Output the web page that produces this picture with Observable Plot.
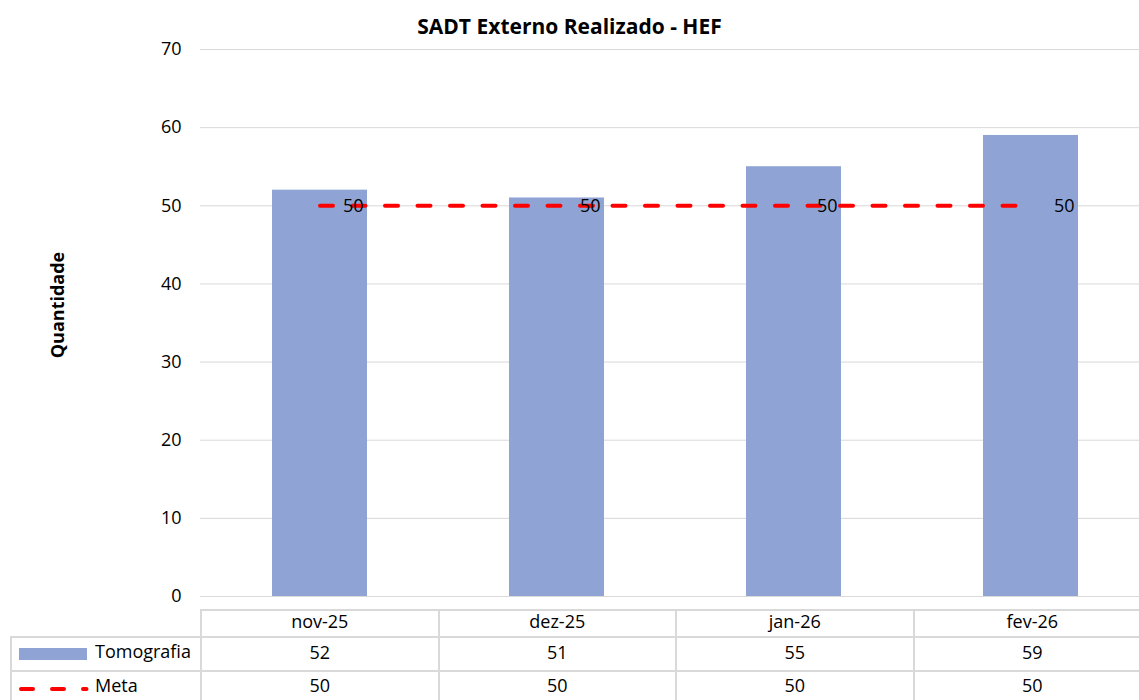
<!DOCTYPE html>
<html>
<head>
<meta charset="utf-8">
<script src="https://cdn.jsdelivr.net/npm/d3@7"></script>
<script src="https://cdn.jsdelivr.net/npm/@observablehq/plot@0.6"></script>
<style>
  html, body { margin: 0; padding: 0; background: #fff; overflow: hidden; }
  body { width: 1139px; height: 700px; font-family: "Open Sans", Lato, sans-serif; color: #000; }
  #title { width: 1139px; height: 40px; text-align: center; font-weight: bold; font-size: 21px; line-height: 21px; padding-top: 16px; box-sizing: border-box; }
  #ylabel { position: absolute; left: 57px; top: 305px; transform: translate(-50%, -50%) rotate(-90deg); font-weight: bold; font-size: 18px; white-space: nowrap; }
  #chart { width: 1150px; }
  #chart svg { display: block; overflow: visible; max-width: none; }
  table { border-collapse: collapse; margin-left: 10px; table-layout: fixed; font-size: 18px; }
  td { border: 2px solid #d9d9d9; text-align: center; padding: 0 0 5px 0; line-height: 20px; vertical-align: middle; }
  td.key { text-align: left; position: relative; }
  td.blank { border: none; }
</style>
</head>
<body>
<div id="title">SADT Externo Realizado - HEF</div>
<div id="ylabel">Quantidade</div>
<div id="chart"></div>
<div id="table"></div>
<script>
const months = ["nov-25", "dez-25", "jan-26", "fev-26"];
const tomografia = [52, 51, 55, 59];
const meta = [50, 50, 50, 50];
const yTicks = [0, 10, 20, 30, 40, 50, 60, 70];

const barData = months.map((m, i) => ({month: m, value: tomografia[i]}));
const metaData = months.map((m, i) => ({month: m, value: meta[i]}));

const chart = Plot.plot({
  width: 1150,
  height: 569,
  marginTop: 9,
  marginBottom: 13,
  marginLeft: 200,
  marginRight: 0,
  style: {fontFamily: "'Open Sans', Lato, sans-serif", fontSize: "18px", color: "#000", overflow: "visible", maxWidth: "none"},
  x: {domain: months, paddingInner: 0.6, paddingOuter: 0.3, axis: null},
  y: {domain: [0, 70], ticks: yTicks, axis: null},
  marks: [
    Plot.gridY(yTicks, {stroke: "#d9d9d9", strokeOpacity: 1, strokeWidth: 1}),
    Plot.axisY(yTicks, {tickSize: 0, tickPadding: 19, fontSize: 18, label: null}),
    Plot.barY(barData, {x: "month", y: "value", fill: "#8FA4D4"}),
    Plot.lineY(metaData, {x: "month", y: "value", stroke: "#ff0000", strokeWidth: 4, strokeDasharray: "13,19.5", strokeLinecap: "round"}),
    Plot.text(metaData, {x: "month", y: "value", text: d => String(d.value), dx: 23, textAnchor: "start", fontSize: 18, fill: "#000"})
  ]
});
document.getElementById("chart").appendChild(chart);

// Data table
const colW = 237.5;
let html = `<table style="width:${190 + colW * months.length}px"><colgroup><col style="width:190px">`;
months.forEach(() => html += `<col style="width:${colW}px">`);
html += `</colgroup>`;
html += `<tr style="height:27px"><td class="blank"></td>` + months.map(m => `<td>${m}</td>`).join("") + `</tr>`;
html += `<tr style="height:34px"><td class="key"><svg width="68" height="12" style="position:absolute;left:7px;top:10px"><rect x="0" y="0" width="68" height="12" fill="#8FA4D4"/></svg><span style="position:absolute;left:83px;top:3px">Tomografia</span></td>` + tomografia.map(v => `<td>${v}</td>`).join("") + `</tr>`;
html += `<tr style="height:33px"><td class="key"><svg width="72" height="12" style="position:absolute;left:7px;top:11px"><line x1="2" x2="67.5" y1="6" y2="6" stroke="#ff0000" stroke-width="4" stroke-linecap="round" stroke-dasharray="12,19"/></svg><span style="position:absolute;left:83px;top:3px">Meta</span></td>` + meta.map(v => `<td>${v}</td>`).join("") + `</tr>`;
html += `</table>`;
document.getElementById("table").innerHTML = html;
</script>
</body>
</html>
